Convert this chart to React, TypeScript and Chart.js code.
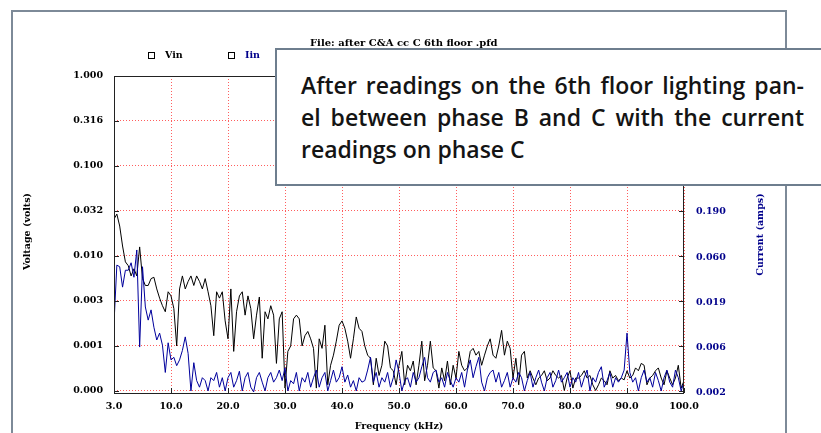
import React, { useEffect, useRef } from "react";
import { Chart, registerables } from "chart.js";

Chart.register(...registerables);

// ---- data ----
const xTickLabels = ["3.0", "10.0", "20.0", "30.0", "40.0", "50.0", "60.0", "70.0", "80.0", "90.0", "100.0"];
const yTickValues = [0.00031623, 0.001, 0.0031623, 0.01, 0.031623, 0.1, 0.31623, 1];
const yTickLabels = ["0.000", "0.001", "0.003", "0.010", "0.032", "0.100", "0.316", "1.000"];
const currentTickLabels = ["0.002", "0.006", "0.019", "0.060", "0.190", "0.600", "1.900", "6.000"];
const CURRENT_PER_VOLT = 6; // right axis = left axis x 6
const SAMPLE_STEP = 0.5; // samples are evenly spaced across the 10 axis divisions

const seriesNames = ["Vin", "Iin"];
const fileTitle = "File: after C&A cc C 6th floor .pfd";

// Voltage (volts)
const vin = [
  0.0257, 0.0292, 0.0215, 0.0129, 0.0086, 0.0078, 0.0060, 0.0072, 0.0060, 0.0126,
  0.0056, 0.0047, 0.0047, 0.0056, 0.0058, 0.0043, 0.0034, 0.0028, 0.0024, 0.0040,
  0.0036, 0.0026, 0.0010, 0.0043, 0.0060, 0.0043, 0.0052, 0.0060, 0.0047, 0.0060,
  0.0052, 0.0043, 0.0056, 0.0040, 0.0028, 0.0013, 0.0040, 0.0034, 0.0040, 0.0019,
  0.0012, 0.0043, 0.00087, 0.0024, 0.0036, 0.0040, 0.0022, 0.0036, 0.0026, 0.0012,
  0.0022, 0.0035, 0.00073, 0.0024, 0.0020, 0.0028, 0.0022, 0.00064, 0.0020, 0.0024,
  0.00034, 0.00087, 0.0010, 0.0020, 0.0022, 0.0020, 0.0010, 0.0013, 0.00145, 0.0012,
  0.00094, 0.00034, 0.0012, 0.00094, 0.0017, 0.00037, 0.00061, 0.00079, 0.00113, 0.0017,
  0.0019, 0.00157, 0.00113, 0.00073, 0.0012, 0.0021, 0.00157, 0.00145, 0.0010, 0.00079,
  0.00073, 0.00037, 0.00073, 0.00047, 0.00061, 0.00113, 0.0010, 0.00057, 0.00053, 0.00037,
  0.00061, 0.00087, 0.00037, 0.00061, 0.00053, 0.00068, 0.00037, 0.00061, 0.00113, 0.00041,
  0.00061, 0.00113, 0.00057, 0.00053, 0.00034, 0.00057, 0.00041, 0.00068, 0.00037, 0.00061,
  0.00044, 0.00087, 0.00061, 0.00053, 0.00057, 0.00087, 0.00094, 0.00079, 0.00087, 0.00061,
  0.00079, 0.0010, 0.0012, 0.00079, 0.00073, 0.0010, 0.00149, 0.00079, 0.00113, 0.00094,
  0.00044, 0.00073, 0.00037, 0.00079, 0.00087, 0.00044, 0.00053, 0.00044, 0.00037, 0.00044,
  0.00047, 0.00053, 0.00041, 0.00044, 0.00053, 0.00047, 0.00044, 0.00047, 0.00032, 0.00044,
  0.00053, 0.00034, 0.00044, 0.00044, 0.00047, 0.00053, 0.00044, 0.00047, 0.00037, 0.00032,
  0.00037, 0.00044, 0.00041, 0.00037, 0.00053, 0.00044, 0.00047, 0.00041, 0.00044, 0.00042,
  0.00053, 0.00044, 0.00047, 0.00057, 0.00053, 0.00064, 0.00061, 0.00037, 0.00044, 0.00047,
  0.00053, 0.00057, 0.00044, 0.00037, 0.00053, 0.00044, 0.00037, 0.00044, 0.00061, 0.00034,
  0.00041,
];

// Current (amps)
const iin = [
  0.0112, 0.049, 0.047, 0.028, 0.043, 0.043, 0.052, 0.036, 0.072, 0.0061,
  0.047, 0.0169, 0.0121, 0.0157, 0.0101, 0.0073, 0.0087, 0.0064, 0.0032, 0.0068,
  0.0044, 0.0047, 0.0038, 0.0044, 0.0056, 0.0079, 0.0052, 0.0020, 0.0041, 0.0026,
  0.0022, 0.0028, 0.0026, 0.0020, 0.0028, 0.0026, 0.0032, 0.0022, 0.0028, 0.0020,
  0.0028, 0.0032, 0.0022, 0.0026, 0.0033, 0.0020, 0.0028, 0.0032, 0.0022, 0.00195,
  0.0028, 0.0032, 0.0025, 0.0020, 0.0028, 0.0032, 0.0025, 0.0028, 0.0034, 0.0026,
  0.0036, 0.0020, 0.0026, 0.0024, 0.0032, 0.0020, 0.0028, 0.0025, 0.0032, 0.0022,
  0.0028, 0.0034, 0.0022, 0.0028, 0.0032, 0.0020, 0.0026, 0.0034, 0.0025, 0.0028,
  0.0037, 0.0025, 0.0030, 0.0022, 0.0026, 0.0020, 0.0028, 0.0025, 0.0026, 0.0034,
  0.0047, 0.0025, 0.0032, 0.0022, 0.0028, 0.0025, 0.0032, 0.0022, 0.0028, 0.0044,
  0.0032, 0.0020, 0.0026, 0.0028, 0.0022, 0.0032, 0.0025, 0.0028, 0.0037, 0.0047,
  0.0028, 0.0025, 0.0032, 0.0034, 0.0025, 0.0028, 0.0022, 0.0032, 0.0026, 0.0022,
  0.0028, 0.0025, 0.0032, 0.0022, 0.0034, 0.0044, 0.0028, 0.0037, 0.0047, 0.0025,
  0.0020, 0.0028, 0.0032, 0.0034, 0.0025, 0.0032, 0.0022, 0.0026, 0.0032, 0.0022,
  0.0028, 0.0025, 0.0032, 0.0028, 0.0020, 0.0026, 0.0032, 0.0022, 0.0028, 0.0034,
  0.0025, 0.0020, 0.0028, 0.0032, 0.0022, 0.0026, 0.0034, 0.0025, 0.0028, 0.0032,
  0.0022, 0.0028, 0.0025, 0.0032, 0.0022, 0.0028, 0.0034, 0.0020, 0.0028, 0.0025,
  0.0032, 0.0037, 0.0022, 0.0026, 0.0032, 0.0022, 0.0028, 0.0025, 0.0028, 0.0034,
  0.0087, 0.0032, 0.0025, 0.0028, 0.0020, 0.0028, 0.0034, 0.0025, 0.0028, 0.0022,
  0.0032, 0.0026, 0.0020, 0.0028, 0.0034, 0.0025, 0.0022, 0.0034, 0.0028, 0.0020,
  0.0025,
];

const annotationLines = [
  "After readings on the 6th floor lighting pan-",
  "el between phase B and C with the current",
  "readings on phase C",
];

// ---- styles ----
const SERIF = '"DejaVu Serif", "Liberation Serif", serif';
const TICK_FONT = { family: SERIF, size: 9.5, weight: "bold" as const };
const GRID_RED = "rgba(255, 40, 40, 0.75)";
const VIN_COLOR = "#000000";
const IIN_COLOR = "#00009c";
const AXIS_BLUE = "#00008b";
const FRAME_GREY = "#7d8a98";

const decor = {
  id: "decor",
  beforeDraw(chart: any) {
    const ctx = chart.ctx;
    ctx.save();
    ctx.fillStyle = "#ffffff";
    ctx.fillRect(0, 0, chart.width, chart.height);
    // outer picture frame
    ctx.strokeStyle = FRAME_GREY;
    ctx.lineWidth = 2;
    ctx.beginPath();
    ctx.moveTo(12, chart.height);
    ctx.lineTo(12, 11);
    ctx.lineTo(786, 11);
    ctx.lineTo(786, chart.height);
    ctx.stroke();
    ctx.restore();
  },
  afterDraw(chart: any) {
    const ctx = chart.ctx;
    const { left, right, top, bottom } = chart.chartArea;
    ctx.save();
    // plot frame
    ctx.strokeStyle = "#222";
    ctx.lineWidth = 1;
    ctx.strokeRect(left + 0.5, top + 0.5, right - left - 1, bottom - top);
    // inward ticks
    ctx.beginPath();
    const ys = chart.scales.y;
    ys.ticks.forEach((t: any) => {
      const p = Math.round(ys.getPixelForValue(t.value)) + 0.5;
      ctx.moveTo(left, p);
      ctx.lineTo(left + 5, p);
      ctx.moveTo(right, p);
      ctx.lineTo(right - 5, p);
    });
    const xs = chart.scales.x;
    xs.ticks.forEach((t: any) => {
      const p = Math.round(xs.getPixelForValue(t.value)) + 0.5;
      ctx.moveTo(p, bottom);
      ctx.lineTo(p, bottom - 5);
    });
    ctx.stroke();

    // header: file title and legend
    ctx.textBaseline = "middle";
    ctx.textAlign = "left";
    ctx.font = `bold 10px ${SERIF}`;
    ctx.fillStyle = "#000";
    ctx.fillText(fileTitle, 310, 43);

    ctx.font = `bold 9.5px ${SERIF}`;
    const legendItems = [
      { name: seriesNames[0], color: VIN_COLOR, x: 148 },
      { name: seriesNames[1], color: AXIS_BLUE, x: 228 },
    ];
    legendItems.forEach((it) => {
      ctx.strokeStyle = "#000";
      ctx.lineWidth = 1;
      ctx.strokeRect(it.x + 0.5, 52.5, 6, 6);
      ctx.fillStyle = it.color;
      ctx.fillText(it.name, it.x + 17, 56);
    });

    // axis titles
    const midY = (top + bottom) / 2;
    ctx.textAlign = "center";
    ctx.font = `bold 9.5px ${SERIF}`;
    ctx.fillStyle = "#000";
    ctx.fillText("Frequency (kHz)", (left + right) / 2, 427);

    ctx.save();
    ctx.translate(28, midY - 3);
    ctx.rotate(-Math.PI / 2);
    ctx.fillText("Voltage (volts)", 0, 0);
    ctx.restore();

    ctx.save();
    ctx.translate(761, midY);
    ctx.rotate(-Math.PI / 2);
    ctx.fillStyle = AXIS_BLUE;
    ctx.fillText("Current (amps)", 0, 0);
    ctx.restore();

    ctx.restore();
  },
};

export default function App() {
  const ref = useRef<HTMLCanvasElement>(null);

  useEffect(() => {
    const canvas = ref.current;
    if (!canvas) return;
    const chart = new Chart(canvas, {
      type: "line",
      data: {
        datasets: [
          {
            label: seriesNames[0],
            data: vin.map((v, i) => ({ x: i * SAMPLE_STEP, y: v })),
            yAxisID: "y",
            borderColor: VIN_COLOR,
            borderWidth: 1,
            pointRadius: 0,
            tension: 0,
            fill: false,
            order: 1,
          },
          {
            label: seriesNames[1],
            data: iin.map((v, i) => ({ x: i * SAMPLE_STEP, y: v })),
            yAxisID: "y2",
            borderColor: IIN_COLOR,
            borderWidth: 1,
            pointRadius: 0,
            tension: 0,
            fill: false,
            order: 0,
          },
        ],
      },
      options: {
        responsive: false,
        animation: false,
        events: [],
        layout: { padding: { top: 76, left: 0, right: 0, bottom: 0 } },
        plugins: {
          legend: { display: false },
          title: { display: false },
          tooltip: { enabled: false },
        },
        scales: {
          x: {
            type: "linear",
            position: "bottom",
            min: 0,
            max: 100,
            afterFit: (s: any) => {
              s.height = 40;
            },
            grid: { color: GRID_RED, lineWidth: 1, drawTicks: false },
            border: { display: false, dash: [1, 2] },
            ticks: {
              stepSize: 10,
              autoSkip: false,
              maxRotation: 0,
              padding: 8,
              color: "#000",
              font: TICK_FONT,
              callback: (_v: any, i: number) => xTickLabels[i],
            },
          },
          y: {
            type: "logarithmic",
            position: "left",
            min: yTickValues[0],
            max: yTickValues[yTickValues.length - 1],
            afterFit: (s: any) => {
              s.width = 114;
            },
            afterBuildTicks: (s: any) => {
              s.ticks = yTickValues.map((v) => ({ value: v }));
            },
            grid: { color: GRID_RED, lineWidth: 1, drawTicks: false },
            border: { display: false, dash: [1, 2] },
            ticks: {
              autoSkip: false,
              padding: 11,
              color: "#000",
              font: TICK_FONT,
              callback: (_v: any, i: number) => yTickLabels[i],
            },
          },
          y2: {
            type: "logarithmic",
            position: "right",
            min: yTickValues[0] * CURRENT_PER_VOLT,
            max: yTickValues[yTickValues.length - 1] * CURRENT_PER_VOLT,
            afterFit: (s: any) => {
              s.width = 137;
            },
            afterBuildTicks: (s: any) => {
              s.ticks = yTickValues.map((v) => ({ value: v * CURRENT_PER_VOLT }));
            },
            grid: { display: false, drawTicks: false },
            border: { display: false },
            ticks: {
              autoSkip: false,
              padding: 12,
              color: AXIS_BLUE,
              font: TICK_FONT,
              callback: (_v: any, i: number) => currentTickLabels[i],
            },
          },
        },
      },
      plugins: [decor],
    });
    return () => chart.destroy();
  }, []);

  return (
    <div
      style={{
        position: "fixed",
        left: 0,
        top: 0,
        width: 821,
        height: 433,
        overflow: "hidden",
        background: "#fff",
      }}
    >
      <canvas ref={ref} width={821} height={433} style={{ display: "block", width: 821, height: 433 }} />
      <div
        style={{
          position: "absolute",
          left: 275,
          top: 48,
          width: 560,
          height: 138,
          boxSizing: "border-box",
          border: "2px solid #6e7e8e",
          background: "#fff",
          padding: "19px 0 0 24px",
          fontFamily: '"Open Sans", "Noto Sans", sans-serif',
          fontWeight: 600,
          fontSize: 23,
          lineHeight: "32px",
          color: "#141414",
        }}
      >
        {annotationLines.map((line, i) => (
          <div
            key={i}
            style={{
              width: 503,
              whiteSpace: "nowrap",
              textAlign: i < annotationLines.length - 1 ? "justify" : "left",
              textAlignLast: i < annotationLines.length - 1 ? "justify" : "left",
            }}
          >
            {line}
          </div>
        ))}
      </div>
    </div>
  );
}
